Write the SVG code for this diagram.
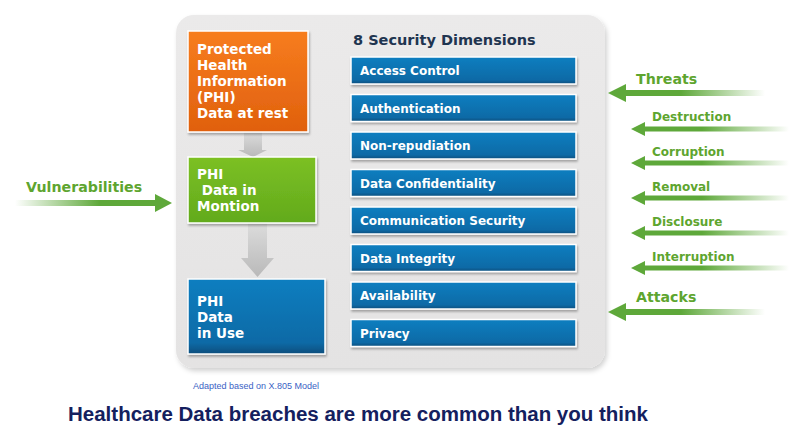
<svg xmlns="http://www.w3.org/2000/svg" width="800" height="443" viewBox="0 0 800 443">
<defs>
<style>
.bx{font-family:"DejaVu Sans",Verdana,sans-serif;font-weight:bold;fill:#fff;font-size:13.5px}
.bt{font-family:"DejaVu Sans",Verdana,sans-serif;font-weight:bold;fill:#fff;font-size:12px}
.gl{font-family:"DejaVu Sans",Verdana,sans-serif;font-weight:bold;fill:#5ea52f}
.big{font-size:14.2px}
.sm{font-size:12px}
.bar{fill:url(#gBlue);stroke:#fff;stroke-width:1.5;filter:url(#sh)}
.ga{fill:#5ea83a}
</style>
<linearGradient id="gPanel" x1="0" y1="0" x2="0" y2="1"><stop offset="0" stop-color="#ebeaea"/><stop offset="1" stop-color="#e4e3e3"/></linearGradient>
<linearGradient id="gOrange" x1="0" y1="0" x2="0" y2="1"><stop offset="0" stop-color="#f77d1e"/><stop offset="1" stop-color="#e0600d"/></linearGradient>
<linearGradient id="gGreen" x1="0" y1="0" x2="0" y2="1"><stop offset="0" stop-color="#7cc024"/><stop offset="1" stop-color="#62aa1c"/></linearGradient>
<linearGradient id="gBlue" x1="0" y1="0" x2="0" y2="1"><stop offset="0" stop-color="#0b7ec0"/><stop offset="0.85" stop-color="#0a6aa6"/><stop offset="1" stop-color="#074d7c"/></linearGradient>
<linearGradient id="gGray" x1="0" y1="0" x2="0" y2="1"><stop offset="0" stop-color="#dcdcdc"/><stop offset="1" stop-color="#b9b9b9"/></linearGradient>
<linearGradient id="fadeR" x1="0" y1="0" x2="1" y2="0"><stop offset="0" stop-color="#5ea83a"/><stop offset="0.4" stop-color="#5ea83a"/><stop offset="1" stop-color="#5ea83a" stop-opacity="0"/></linearGradient>
<linearGradient id="fadeL" x1="0" y1="0" x2="1" y2="0"><stop offset="0" stop-color="#5ea83a" stop-opacity="0"/><stop offset="0.6" stop-color="#5ea83a"/><stop offset="1" stop-color="#5ea83a"/></linearGradient>
<filter id="sh" x="-10%" y="-20%" width="130%" height="150%"><feDropShadow dx="1" dy="2" stdDeviation="1.2" flood-color="#000" flood-opacity="0.3"/></filter>
<filter id="psh" x="-5%" y="-5%" width="115%" height="115%"><feDropShadow dx="2" dy="3" stdDeviation="2.5" flood-color="#000" flood-opacity="0.18"/></filter>
</defs>
<rect width="800" height="443" fill="#fff"/>
<g id="panel"><rect x="176" y="15" width="429" height="353" rx="18" fill="url(#gPanel)" filter="url(#psh)"/></g>

<g id="connectors">
<path d="M244 132 H262 V150 H267 L253 157 L238 150 H244 Z" fill="url(#gGray)"/>
<path d="M248 223 H267 V258 H274 L257.5 277 L241 258 H248 Z" fill="url(#gGray)"/>
<g id="vulnerabilities-arrow"><rect x="15" y="200" width="141" height="6" fill="url(#fadeL)"/><path class="ga" d="M155 194 L172 203 L155 212 Z"/></g>
<g id="threats-arrow"><rect x="625" y="90" width="140" height="6" fill="url(#fadeR)"/><path class="ga" d="M626 84 L608 93 L626 102 Z"/></g>
<g id="destruction-arrow"><rect x="644" y="126.5" width="145" height="5" fill="url(#fadeR)"/><path class="ga" d="M645 122 L631 129 L645 136 Z"/></g>
<g id="corruption-arrow"><rect x="644" y="160.5" width="145" height="5" fill="url(#fadeR)"/><path class="ga" d="M645 156 L631 163 L645 170 Z"/></g>
<g id="removal-arrow"><rect x="644" y="195.5" width="145" height="5" fill="url(#fadeR)"/><path class="ga" d="M645 191 L631 198 L645 205 Z"/></g>
<g id="disclosure-arrow"><rect x="644" y="230.5" width="145" height="5" fill="url(#fadeR)"/><path class="ga" d="M645 226 L631 233 L645 240 Z"/></g>
<g id="interruption-arrow"><rect x="644" y="265.5" width="145" height="5" fill="url(#fadeR)"/><path class="ga" d="M645 261 L631 268 L645 275 Z"/></g>
<g id="attacks-arrow"><rect x="625" y="309" width="140" height="6" fill="url(#fadeR)"/><path class="ga" d="M626 303 L608 312 L626 321 Z"/></g>
</g>

<g id="phi-rest"><rect x="188" y="31" width="120" height="101" fill="url(#gOrange)" stroke="#fff" stroke-width="1.5" filter="url(#sh)"/>
<text class="bx" x="197" y="54">Protected</text><text class="bx" x="197" y="70">Health</text><text class="bx" x="197" y="86">Information</text><text class="bx" x="197" y="102">(PHI)</text><text class="bx" x="197" y="118">Data at rest</text></g>
<g id="phi-motion"><rect x="188" y="157" width="128" height="66" fill="url(#gGreen)" stroke="#fff" stroke-width="1.5" filter="url(#sh)"/>
<text class="bx" x="197" y="179">PHI</text><text class="bx" x="197" y="195" xml:space="preserve"> Data in</text><text class="bx" x="197" y="211">Montion</text></g>
<g id="phi-use"><rect x="188" y="279" width="137" height="75" fill="url(#gBlue)" stroke="#fff" stroke-width="1.5" filter="url(#sh)"/>
<text class="bx" x="197" y="306">PHI</text><text class="bx" x="197" y="322">Data</text><text class="bx" x="197" y="338">in Use</text></g>

<g id="dimensions">
<text x="353" y="45" font-family="DejaVu Sans,Verdana,sans-serif" font-weight="bold" font-size="14.5" fill="#1f3550">8 Security Dimensions</text>
<g id="access-control"><rect class="bar" x="351" y="57" width="225" height="27"/><text class="bt" x="360" y="75">Access Control</text></g>
<g id="authentication"><rect class="bar" x="351" y="94.5" width="225" height="27"/><text class="bt" x="360" y="112.5">Authentication</text></g>
<g id="non-repudiation"><rect class="bar" x="351" y="132" width="225" height="27"/><text class="bt" x="360" y="150">Non-repudiation</text></g>
<g id="data-confidentiality"><rect class="bar" x="351" y="169.5" width="225" height="27"/><text class="bt" x="360" y="187.5">Data Confidentiality</text></g>
<g id="communication-security"><rect class="bar" x="351" y="207" width="225" height="27"/><text class="bt" x="360" y="225">Communication Security</text></g>
<g id="data-integrity"><rect class="bar" x="351" y="244.5" width="225" height="27"/><text class="bt" x="360" y="262.5">Data Integrity</text></g>
<g id="availability"><rect class="bar" x="351" y="282" width="225" height="27"/><text class="bt" x="360" y="300">Availability</text></g>
<g id="privacy"><rect class="bar" x="351" y="319.5" width="225" height="27"/><text class="bt" x="360" y="337.5">Privacy</text></g>
</g>

<g id="labels">
<text class="gl big" x="26" y="192">Vulnerabilities</text>
<text class="gl big" x="636" y="84">Threats</text>
<text class="gl sm" x="652" y="121">Destruction</text>
<text class="gl sm" x="652" y="156">Corruption</text>
<text class="gl sm" x="652" y="191">Removal</text>
<text class="gl sm" x="652" y="226">Disclosure</text>
<text class="gl sm" x="652" y="261">Interruption</text>
<text class="gl big" x="636" y="302">Attacks</text>
<text x="193" y="389" font-family="Liberation Sans,Arial,sans-serif" font-size="9" fill="#3a62c4">Adapted based on X.805 Model</text>
<text x="68" y="421" font-family="Liberation Sans,Arial,sans-serif" font-weight="bold" font-size="20" fill="#14205e" textLength="580" lengthAdjust="spacingAndGlyphs">Healthcare Data breaches are more common than you think</text>
</g>
</svg>
